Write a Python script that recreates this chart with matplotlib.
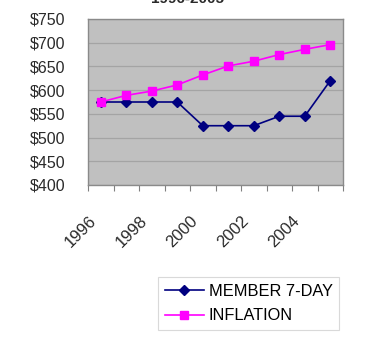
import matplotlib as mpl
mpl.use('Agg')
import matplotlib.pyplot as plt
import numpy as np

font = {'family': 'Liberation Sans', 'size': 11}
mpl.rc('font', **font)

years = [1996, 1997, 1998, 1999, 2000, 2001, 2002, 2003, 2004, 2005]
member_7day = [575, 575, 575, 575, 525, 525, 525, 545, 545, 620]
inflation = [575, 589, 598, 611, 632, 651, 661, 675, 686, 696]
yticks = [400, 450, 500, 550, 600, 650, 700, 750]
title = "1996-2005"


def main():
    fig = plt.figure(figsize=(3.65, 3.45), dpi=100)
    ax = fig.add_axes([88/365, 1 - 185/345, (343 - 88)/365, (185 - 19)/345])

    x = np.arange(len(years))
    ax.set_facecolor('#c0c0c0')
    ax.plot(x, member_7day, color='#000080', marker='D', markersize=5, linewidth=1.2,
            label='MEMBER 7-DAY', zorder=3)
    ax.plot(x, inflation, color='#ff00ff', marker='s', markersize=6, linewidth=1.2,
            label='INFLATION', zorder=3)

    # category axis: ticks between categories, every other year labelled
    ax.set_xlim(-0.5, len(years) - 0.5)
    ax.set_xticks(np.arange(len(years) + 1) - 0.5)
    ax.set_xticklabels([])
    ax.tick_params(axis='x', which='major', length=4, color='#808080', direction='out')
    trans = ax.get_xaxis_transform()
    for xi, yr in zip(x[::2], years[::2]):
        ax.annotate(str(yr), xy=(xi, 0), xycoords=trans,
                    xytext=(-9, -20), textcoords='offset points',
                    rotation=45, ha='right', va='top', rotation_mode='anchor',
                    fontsize=12, color='#2a2a2a', annotation_clip=False)

    ax.set_ylim(400, 750)
    ax.set_yticks(yticks)
    ax.set_yticklabels([f"${v}" for v in yticks], fontsize=11.5, color='#2a2a2a')
    ax.tick_params(axis='y', length=0, pad=16)
    ax.yaxis.grid(True, color='#a4a4a4', linewidth=0.9)
    ax.set_axisbelow(True)

    for side in ['left', 'right', 'top', 'bottom']:
        ax.spines[side].set_color('#8a8a8a')
        ax.spines[side].set_linewidth(1.0)

    fig.text(188/365, 1 - 3/345, title, ha='center', va='baseline',
             fontsize=11, fontweight='bold', color='#2a2a2a')

    leg = fig.legend(loc='upper left', bbox_to_anchor=(158/365, 1 - 277/345),
                     frameon=True, fancybox=False, fontsize=11.8,
                     handlelength=2.4, borderpad=0.4, labelspacing=0.6,
                     handletextpad=0.3, borderaxespad=0)
    leg.get_frame().set_edgecolor('#d0d0d0')
    leg.get_frame().set_linewidth(0.8)

    plt.savefig("out.png", dpi=100)
    plt.close(fig)


if __name__ == "__main__":
    main()
